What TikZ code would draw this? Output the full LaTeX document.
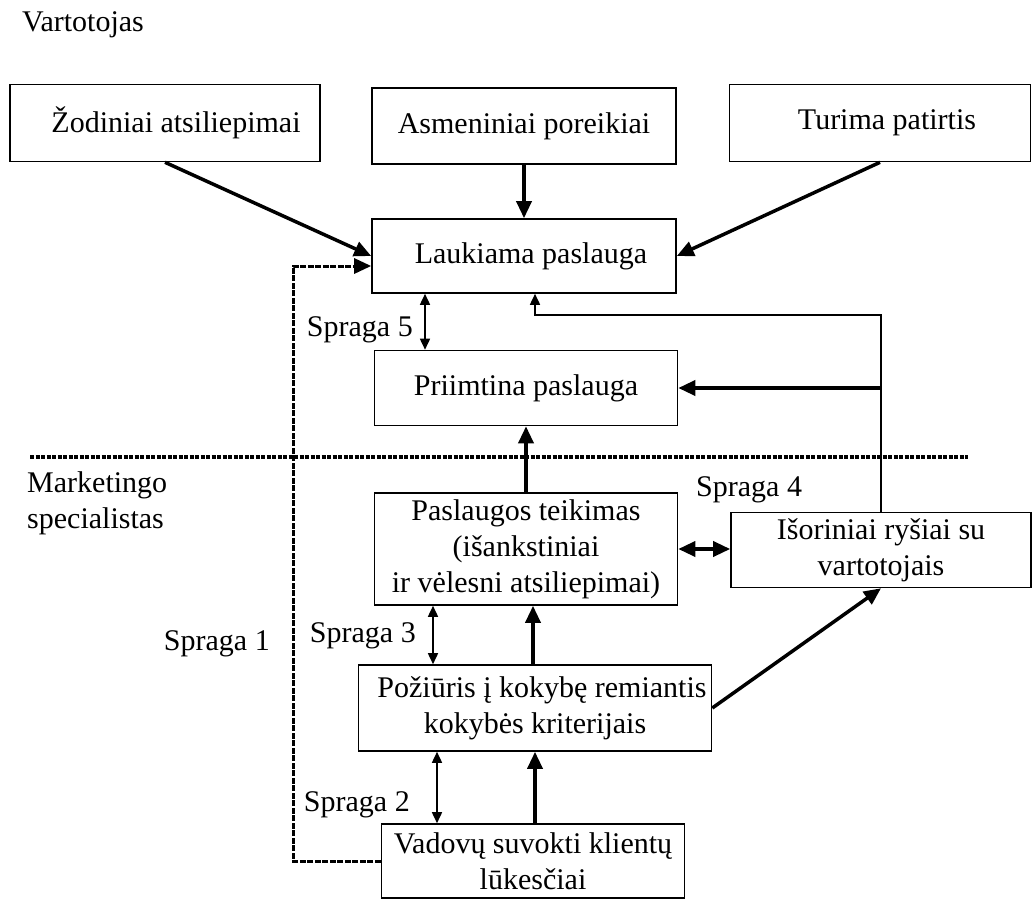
\documentclass[tikz,border=0pt]{standalone}
\usepackage{fontspec}
\setmainfont{Liberation Serif}
\usetikzlibrary{arrows.meta}
\begin{document}
\begin{tikzpicture}[x=1pt,y=-1pt,
  box/.style={draw,line width=1.6pt,align=center,inner sep=0pt,
    font=\fontsize{30}{36}\selectfont},
  lbl/.style={font=\fontsize{30}{36}\selectfont,inner sep=0pt},
  strong/.style={line width=3.5pt,-{Triangle[length=17pt,width=15pt]}},
  gaparrow/.style={line width=1.6pt,{Triangle[length=11pt,width=10pt]}-{Triangle[length=11pt,width=10pt]}}]
\useasboundingbox (0,0) rectangle (1033,899);
% vartotojas
\node[lbl,anchor=west] (vart) at (22,25) {Vartotojas};
\node[box,minimum width=310pt,minimum height=77pt] (zodiniai) at (165,123) {\hspace*{22pt}Žodiniai atsiliepimai};
\node[box,minimum width=304pt,minimum height=76pt] (asmeniniai) at (524,126) {Asmeniniai poreikiai};
\node[box,minimum width=301pt,minimum height=77pt] (turima) at (880,123) {\hspace*{14pt}Turima patirtis};
\node[box,minimum width=304pt,minimum height=74pt] (laukiama) at (524,256) {\hspace*{14pt}Laukiama paslauga};
\node[box,minimum width=303pt,minimum height=75pt] (priimtina) at (526,388) {Priimtina paslauga};
\node[lbl,anchor=east] (s5) at (413,330) {Spraga 5};
% marketingo specialistas
\draw[line width=4pt,dash pattern=on 4pt off 1.5pt] (30,457) -- (968,457);
\node[lbl,anchor=west,align=left] (mark) at (27,503) {Marketingo\\specialistas};
\node[box,minimum width=303pt,minimum height=112pt] (teikimas) at (526,549) {Paslaugos teikimas\\(išankstiniai\\ir vėlesni atsiliepimai)};
\node[box,minimum width=300pt,minimum height=75pt] (isoriniai) at (881,550) {Išoriniai ryšiai su\\vartotojais};
\node[box,minimum width=353pt,minimum height=86pt] (poziuris) at (535,708) {\hspace*{14pt}Požiūris į kokybę remiantis\\kokybės kriterijais};
\node[box,minimum width=303pt,minimum height=74pt] (vadovu) at (533,861) {Vadovų suvokti klientų\\lūkesčiai};
\node[lbl,anchor=west] (s4) at (696,490) {Spraga 4};
\node[lbl,anchor=east] (s3) at (416,636) {Spraga 3};
\node[lbl,anchor=east] (s1) at (270,644) {Spraga 1};
\node[lbl,anchor=east] (s2) at (410,805) {Spraga 2};
% rodykles
\draw[strong] (zodiniai.south) -- (laukiama.west);
\draw[strong] (asmeniniai.south) -- (laukiama.north);
\draw[strong] (turima.south) -- (laukiama.east);
\draw[line width=3pt,dash pattern=on 6pt off 1.5pt,-{Triangle[length=17pt,width=15pt]}]
  (vadovu.west) -| (293,266) -- (laukiama.west |- 293,266);
\draw[gaparrow] (laukiama.south -| 425,0) -- (priimtina.north -| 425,0);
\draw[line width=1.6pt,-{Triangle[length=11pt,width=10pt]}]
  (isoriniai.north) |- (535,315) -- (laukiama.south -| 535,0);
\draw[strong] (isoriniai.north |- priimtina.east) -- (priimtina.east);
\draw[strong] (teikimas.north) -- (priimtina.south);
\draw[line width=3.5pt,{Triangle[length=17pt,width=15pt]}-{Triangle[length=17pt,width=15pt]}]
  (teikimas.east) -- (teikimas.east -| isoriniai.west);
\draw[gaparrow] (teikimas.south -| 433,0) -- (poziuris.north -| 433,0);
\draw[strong] (poziuris.north -| 533,0) -- (teikimas.south -| 533,0);
\draw[strong] (poziuris.east) -- (isoriniai.south);
\draw[gaparrow] (poziuris.south -| 437,0) -- (vadovu.north -| 437,0);
\draw[strong] (vadovu.north -| 535,0) -- (poziuris.south -| 535,0);
\end{tikzpicture}
\end{document}
